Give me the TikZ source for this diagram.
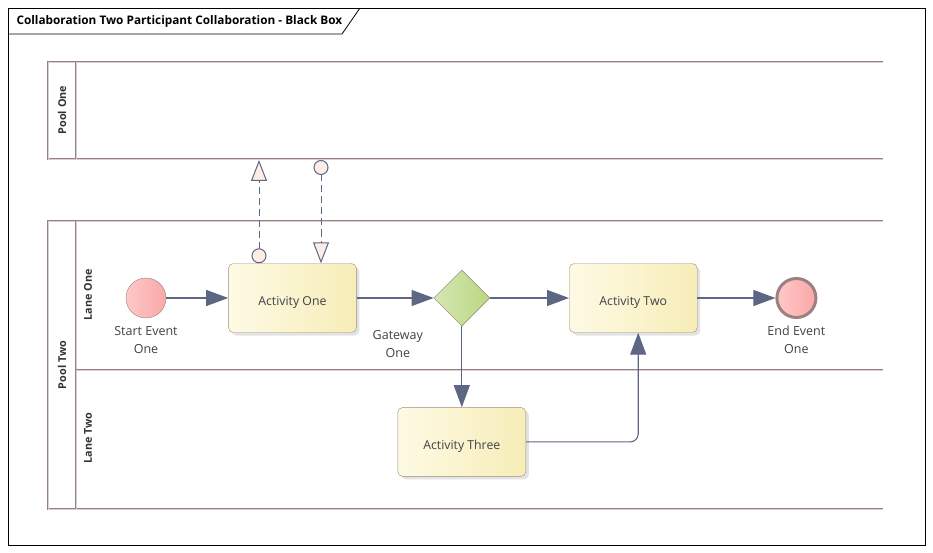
\documentclass[tikz,border=0pt]{standalone}
\usepackage{fontspec}
\setmainfont{Open Sans}
\usetikzlibrary{arrows.meta,positioning,shapes.geometric,shadows}

\definecolor{flowline}{RGB}{93,102,130}
\definecolor{msgfill}{RGB}{252,238,230}
\definecolor{tasklight}{RGB}{253,250,228}
\definecolor{taskdark}{RGB}{247,237,184}
\definecolor{taskline}{RGB}{160,140,125}
\definecolor{eventlight}{RGB}{255,200,200}
\definecolor{eventdark}{RGB}{250,168,168}
\definecolor{eventline}{RGB}{158,128,128}
\definecolor{gwlight}{RGB}{212,231,178}
\definecolor{gwdark}{RGB}{186,215,130}
\definecolor{gwline}{RGB}{140,130,110}
\definecolor{poolouter}{RGB}{150,128,128}
\definecolor{poolinner}{RGB}{218,208,208}
\definecolor{labeltext}{RGB}{64,64,72}

\begin{document}
\begin{tikzpicture}[
            x = 1pt, y = -1pt, % pixel grid, y pointing down
            > = {Triangle[length=22pt,width=16pt]}, % arrow head style
            flow/.style = {color=flowline, line width=1.1pt, ->},
            msg/.style = {color=flowline, line width=1pt, dash pattern=on 7pt off 4pt,
                {Circle[length=15pt,fill=msgfill]}-{Triangle[length=21pt,width=16pt,fill=msgfill]}},
            task/.style = {shape=rectangle, draw=taskline, rounded corners=5pt,
                minimum width=128pt, minimum height=69pt,
                left color=tasklight, right color=taskdark,
                drop shadow={shadow xshift=3pt, shadow yshift=-3pt, fill=black!22},
                text height=18pt, text depth=3pt,
                font=\fontsize{12.3}{14}\selectfont, text=labeltext},
            event/.style = {shape=circle, draw=eventline, minimum size=40pt, inner sep=0pt,
                left color=eventlight, right color=eventdark},
            gateway/.style = {shape=diamond, draw=gwline, minimum size=56pt, inner sep=0pt,
                aspect=1, left color=gwlight, right color=gwdark},
            lbl/.style = {align=center, font=\fontsize{12.5}{18}\selectfont, text=labeltext},
            poolline/.style = {draw=poolouter, double=poolinner, double distance=0.9pt, line width=0.9pt},
            header/.style = {rotate=90, font=\bfseries\fontsize{10.8}{12}\selectfont, text=black!80}
        ]
        \useasboundingbox (0,0) rectangle (933,553);

        % frame and title tab
        \draw[black, line width=0.8pt] (8,8) rectangle (925,545);
        \draw[black, line width=0.8pt] (8,34) -- (342,34) -- (360,8);
        \node[anchor=west, font=\bfseries\fontsize{11.8}{14}\selectfont] (title) at (13,21)
            {Collaboration Two Participant Collaboration - Black Box};

        % pools and lanes
        \draw[poolline] (883,62) -- (48,62) -- (48,159) -- (883,159);
        \draw[poolline] (76,62) -- (76,159);
        \draw[poolline] (883,221) -- (48,221) -- (48,509) -- (883,509);
        \draw[poolline] (76,221) -- (76,509);
        \draw[poolline] (76,370) -- (883,370);
        \node[header] (poolone) at (62,110) {Pool One};
        \node[header] (pooltwo) at (62,365) {Pool Two};
        \node[header] (laneone) at (88,295) {Lane One};
        \node[header] (lanetwo) at (88,438) {Lane Two};

        % flow elements
        \node[event] (start) at (146,298) [label={[lbl, label distance=5pt]below:{Start Event\\One}}] {};
        \node[task]    (act1) [right=62pt of start] {Activity One};
        \node[gateway] (gw)   [right=77pt of act1] {};
        \node[task]    (act2) [right=79pt of gw] {Activity Two};
        \node[event, line width=3pt, minimum size=39pt] (end) [right=78pt of act2]
            [label={[lbl, label distance=3pt]below:{End Event\\One}}] {};
        \node[task]    (act3) [below=81pt of gw] {Activity Three};
        \node[lbl] (gwlabel) at ([xshift=-64pt, yshift=-46pt]gw) {Gateway\\One};

        % sequence flows
        \draw[flow] (start) -- (act1);
        \draw[flow] (act1)  -- (gw);
        \draw[flow] (gw)    -- (act2);
        \draw[flow] (act2)  -- (end);
        \draw[flow] (gw)    -- (act3);
        \draw[flow, rounded corners=8pt] (act3.east) -| ([xshift=5pt]act2.south);

        % message flows
        \coordinate (mfa) at (259,160);
        \coordinate (mfb) at (321,160);
        \draw[msg] (act1.north -| mfa) -- (mfa);
        \draw[msg] (mfb) -- (act1.north -| mfb);
    \end{tikzpicture}
\end{document}
